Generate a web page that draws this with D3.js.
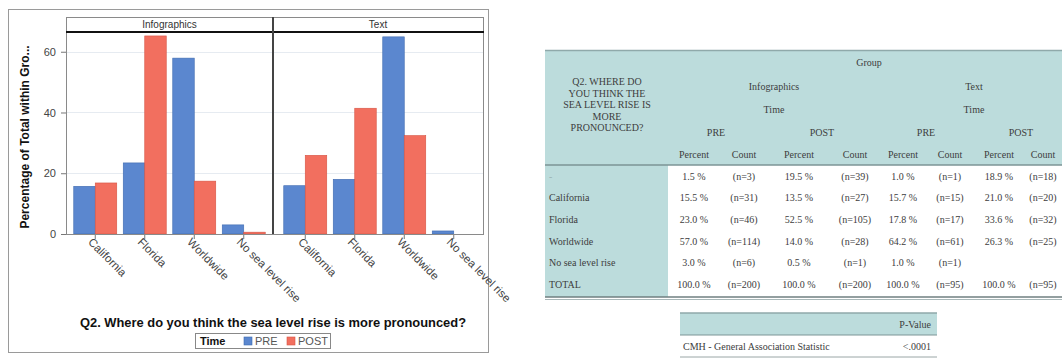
<!DOCTYPE html>
<html>
<head>
<meta charset="utf-8">
<script src="https://cdn.jsdelivr.net/npm/d3@7"></script>
<style>
  html, body { margin: 0; padding: 0; background: #fff; }
  svg { display: block; }
</style>
</head>
<body>
<svg id="fig" width="1062" height="358"></svg>
<script>
// ---- chart data: percentage of non-missing answers within each group ----
const groups = ["Infographics", "Text"];
const categories = ["California", "Florida", "Worldwide", "No sea level rise"];
const times = ["PRE", "POST"];
const infoPre  = [15.7, 23.4, 57.9, 3.0];
const infoPost = [16.8, 65.2, 17.4, 0.6];
const textPre  = [15.9, 18.0, 64.9, 1.0];
const textPost = [25.9, 41.4, 32.4, 0.0];
const yTicks = [0, 20, 40, 60];

// ---- crosstab data ----
const rowLabels = ["-", "California", "Florida", "Worldwide", "No sea level rise", "TOTAL"];
const infoPrePct  = ["1.5 %", "15.5 %", "23.0 %", "57.0 %", "3.0 %", "100.0 %"];
const infoPreN    = ["(n=3)", "(n=31)", "(n=46)", "(n=114)", "(n=6)", "(n=200)"];
const infoPostPct = ["19.5 %", "13.5 %", "52.5 %", "14.0 %", "0.5 %", "100.0 %"];
const infoPostN   = ["(n=39)", "(n=27)", "(n=105)", "(n=28)", "(n=1)", "(n=200)"];
const textPrePct  = ["1.0 %", "15.7 %", "17.8 %", "64.2 %", "1.0 %", "100.0 %"];
const textPreN    = ["(n=1)", "(n=15)", "(n=17)", "(n=61)", "(n=1)", "(n=95)"];
const textPostPct = ["18.9 %", "21.0 %", "33.6 %", "26.3 %", "", "100.0 %"];
const textPostN   = ["(n=18)", "(n=20)", "(n=32)", "(n=25)", "", "(n=95)"];
const rowHeaderLines = ["Q2. WHERE DO", "YOU THINK THE", "SEA LEVEL RISE IS", "MORE", "PRONOUNCED?"];
const pvalueLabel = "CMH - General Association Statistic";
const pvalue = "<.0001";

const svg = d3.select("#fig");
const sans = "'Liberation Sans', Arial, sans-serif";
const serif = "'Liberation Serif', 'Times New Roman', serif";
const blue = "#5b87cf", red = "#f26f5f";
const blueEdge = "#3f6bb0", redEdge = "#d65444";

// ================= bar chart =================
const chart = svg.append("g");
chart.append("rect").attr("x", 8.5).attr("y", 9.5).attr("width", 480).attr("height", 343)
  .attr("fill", "#fff").attr("stroke", "#9a9a9a").attr("stroke-width", 1);

const plotTop = 32, plotBottom = 234, stripTop = 17;
const panels = [
  { name: groups[0], x0: 66, x1: 273, inner: [70.5, 268.5], pre: infoPre, post: infoPost },
  { name: groups[1], x0: 273, x1: 483, inner: [280.5, 478.5], pre: textPre, post: textPost }
];
const y = d3.scaleLinear().domain([0, 66.5]).range([plotBottom, plotTop]);

// faint horizontal grid
chart.append("g").selectAll("line").data(yTicks.filter(t => t > 0)).join("line")
  .attr("x1", 66).attr("x2", 483)
  .attr("y1", d => Math.round(y(d)) + 0.5).attr("y2", d => Math.round(y(d)) + 0.5)
  .attr("stroke", "#e6ebf1").attr("stroke-width", 1);

panels.forEach(p => {
  const x = d3.scaleBand().domain(categories).range(p.inner).padding(0);
  const xs = d3.scaleBand().domain(times).range([-21.5, 21.5]).padding(0);
  const g = chart.append("g");
  const rows = categories.map((c, i) => ({ c, PRE: p.pre[i], POST: p.post[i] }));
  times.forEach(t => {
    g.selectAll(null).data(rows).join("rect")
      .attr("x", d => x(d.c) + x.bandwidth() / 2 + xs(t))
      .attr("width", xs.bandwidth())
      .attr("y", d => y(d[t]))
      .attr("height", d => y(0) - y(d[t]))
      .attr("fill", t === "PRE" ? blue : red)
      .attr("stroke", t === "PRE" ? blueEdge : redEdge)
      .attr("stroke-width", 0.6);
  });

  // x axis with rotated category labels
  const ax = d3.axisBottom(x).tickSize(5).tickSizeOuter(0);
  const axg = chart.append("g").attr("transform", `translate(0,${plotBottom})`).call(ax);
  axg.select(".domain").remove();
  axg.selectAll(".tick line").attr("stroke", "#777");
  axg.selectAll(".tick text")
    .attr("font-family", sans).attr("font-size", 11.5).attr("fill", "#444")
    .attr("text-anchor", "start")
    .attr("transform", "translate(-5,6) rotate(45)")
    .attr("x", 0).attr("y", 0).attr("dy", "0.35em");

  // strip header
  chart.append("rect").attr("x", p.x0 + 0.5).attr("y", stripTop + 0.5)
    .attr("width", p.x1 - p.x0).attr("height", plotTop - stripTop)
    .attr("fill", "#fff").attr("stroke", "#8a8a8a");
  chart.append("text").attr("x", (p.x0 + p.x1) / 2).attr("y", stripTop + 11)
    .attr("text-anchor", "middle").attr("font-family", sans).attr("font-size", 10)
    .attr("fill", "#333").text(p.name);
});

// panel frames
chart.append("rect").attr("x", 66.5).attr("y", stripTop + 0.5).attr("width", 417).attr("height", plotBottom - stripTop)
  .attr("fill", "none").attr("stroke", "#8a8a8a");
chart.append("line").attr("x1", 66).attr("x2", 484).attr("y1", plotTop).attr("y2", plotTop)
  .attr("stroke", "#111").attr("stroke-width", 2);
chart.append("line").attr("x1", 273).attr("x2", 273).attr("y1", stripTop).attr("y2", plotBottom)
  .attr("stroke", "#444").attr("stroke-width", 2);

// y axis
const yax = chart.append("g").attr("transform", "translate(66,0)")
  .call(d3.axisLeft(y).tickValues(yTicks).tickSize(5).tickSizeOuter(0).tickPadding(5));
yax.select(".domain").remove();
yax.selectAll(".tick line").attr("stroke", "#777");
yax.selectAll(".tick text").attr("font-family", sans).attr("font-size", 11).attr("fill", "#444");

chart.append("text").attr("transform", `translate(29,${(plotTop + plotBottom) / 2 + 4}) rotate(-90)`)
  .attr("text-anchor", "middle").attr("font-family", sans).attr("font-size", 12)
  .attr("font-weight", "bold").attr("fill", "#111").text("Percentage of Total within Gro...");

chart.append("text").attr("x", 273).attr("y", 327).attr("text-anchor", "middle")
  .attr("font-family", sans).attr("font-size", 12.9).attr("font-weight", "bold").attr("fill", "#111")
  .text("Q2. Where do you think the sea level rise is more pronounced?");

// legend
const lg = chart.append("g");
lg.append("rect").attr("x", 195.5).attr("y", 333.5).attr("width", 135).attr("height", 15)
  .attr("fill", "#fff").attr("stroke", "#888");
lg.append("text").attr("x", 200).attr("y", 345).attr("font-family", sans).attr("font-size", 11)
  .attr("font-weight", "bold").attr("fill", "#111").text("Time");
const legendItems = [{ t: times[0], c: blue, e: blueEdge, x: 244 }, { t: times[1], c: red, e: redEdge, x: 287 }];
legendItems.forEach(d => {
  lg.append("rect").attr("x", d.x).attr("y", 337).attr("width", 8).attr("height", 8)
    .attr("fill", d.c).attr("stroke", d.e).attr("stroke-width", 0.6);
  lg.append("text").attr("x", d.x + 11).attr("y", 345).attr("font-family", sans)
    .attr("font-size", 11).attr("fill", "#555").text(d.t);
});

// ================= crosstab =================
const teal = "#bcdcdc";
const ink = "#3c3c3c";
const tb = svg.append("g");
const tLeft = 545, tRight = 1062, firstColR = 668, headTop = 51, headBottom = 165, tBottom = 297;

tb.append("rect").attr("x", tLeft).attr("y", headTop).attr("width", tRight - tLeft).attr("height", headBottom - headTop).attr("fill", teal);
tb.append("rect").attr("x", tLeft).attr("y", headBottom).attr("width", firstColR - tLeft).attr("height", tBottom - headBottom).attr("fill", teal);
tb.append("line").attr("x1", tLeft).attr("x2", tRight).attr("y1", headTop - 0.5).attr("y2", headTop - 0.5).attr("stroke", "#8fa9aa").attr("stroke-width", 1.5);
tb.append("line").attr("x1", tLeft).attr("x2", tRight).attr("y1", headBottom).attr("y2", headBottom).attr("stroke", "#7c9596").attr("stroke-width", 1.5);
tb.append("line").attr("x1", tLeft).attr("x2", tRight).attr("y1", tBottom).attr("y2", tBottom).attr("stroke", "#6f7f80").attr("stroke-width", 1.5);
tb.append("line").attr("x1", tLeft).attr("x2", tRight).attr("y1", tBottom + 2.5).attr("y2", tBottom + 2.5).attr("stroke", "#a9b8b9").attr("stroke-width", 1);

function txt(x, yy, s, anchor, opts) {
  const t = tb.append("text").attr("x", x).attr("y", yy).attr("text-anchor", anchor || "middle")
    .attr("font-family", serif).attr("font-size", 10).attr("fill", ink).text(s);
  if (opts && opts.bold) t.attr("font-weight", "bold");
  return t;
}

rowHeaderLines.forEach((s, i) => txt(607, 85 + i * 11.5, s));
txt(869, 66, "Group");
txt(774, 90, groups[0]);
txt(974, 90, groups[1]);
txt(774, 113, "Time");
txt(974, 113, "Time");
txt(716, 136, times[0]);
txt(822, 136, times[1]);
txt(926, 136, times[0]);
txt(1021, 136, times[1]);

const colCenters = [694, 744, 799, 855, 903, 950, 999, 1043];
colCenters.forEach((cx, i) => txt(cx, 158, i % 2 === 0 ? "Percent" : "Count"));

const rowY = [180, 201, 223, 245, 266, 288];
const cols = [infoPrePct, infoPreN, infoPostPct, infoPostN, textPrePct, textPreN, textPostPct, textPostN];
rowLabels.forEach((lab, r) => {
  txt(549, rowY[r], lab, "start").attr("fill", r === 0 ? "#9bb3b3" : ink);
  cols.forEach((col, c) => { if (col[r]) txt(colCenters[c], rowY[r], col[r]); });
});

// p-value table
const pL = 680, pR = 937;
tb.append("rect").attr("x", pL).attr("y", 313).attr("width", pR - pL).attr("height", 22).attr("fill", teal);
tb.append("line").attr("x1", pL).attr("x2", pR).attr("y1", 313).attr("y2", 313).attr("stroke", "#8fa9aa").attr("stroke-width", 1.5);
tb.append("line").attr("x1", pL).attr("x2", pR).attr("y1", 335).attr("y2", 335).attr("stroke", "#7c9596").attr("stroke-width", 1);
tb.append("line").attr("x1", pL).attr("x2", pR).attr("y1", 357).attr("y2", 357).attr("stroke", "#9aa6a6").attr("stroke-width", 1);
txt(931, 328, "P-Value", "end");
txt(683, 350, pvalueLabel, "start");
txt(931, 350, pvalue, "end");
</script>
</body>
</html>
